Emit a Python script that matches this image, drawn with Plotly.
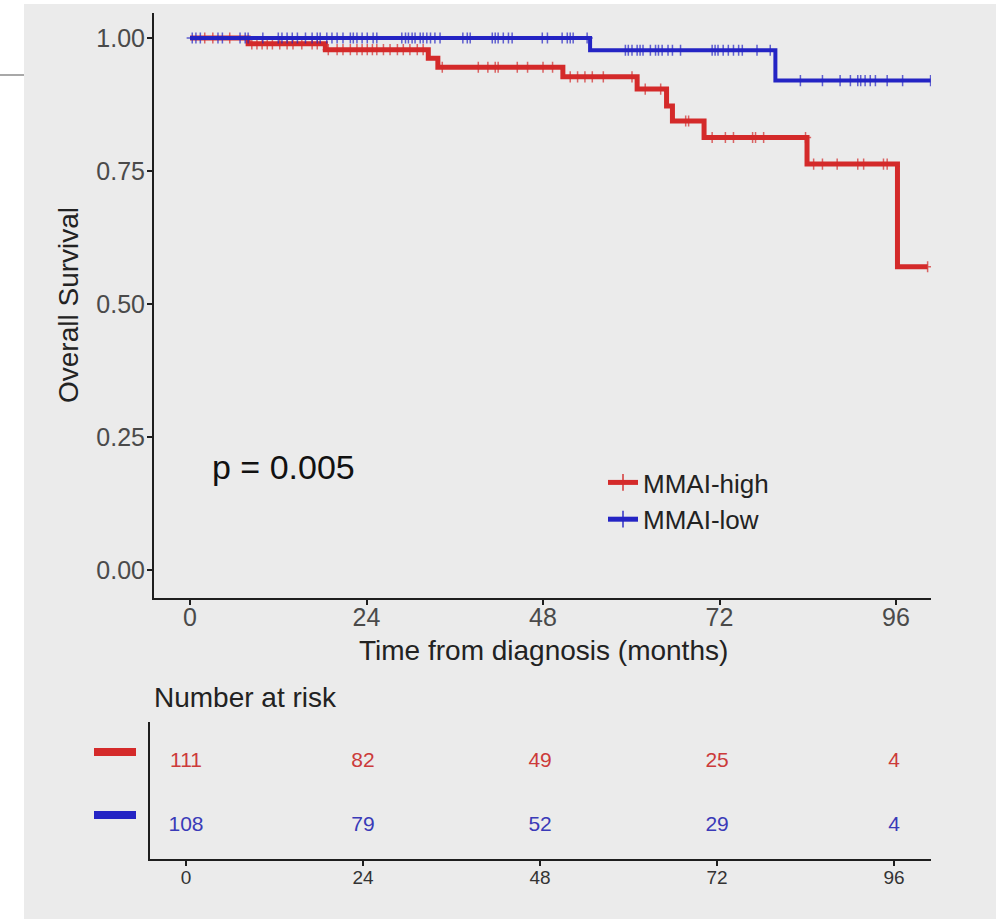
import numpy as np
import plotly.graph_objects as go

W, H = 1003, 919

# ---------------- data ----------------
groups = ["MMAI-high", "MMAI-low"]
colors = ["#d42a2a", "#2424c4"]
text_colors = ["#cc3a3a", "#3a3ab8"]

high_event_times = [7.9, 18.4, 32.4, 33.7, 50.7, 60.8, 64.8, 65.6, 69.9, 83.9, 96.2]
high_surv = [0.989, 0.978, 0.962, 0.945, 0.927, 0.904, 0.872, 0.844, 0.813, 0.763, 0.570]
high_censor_times = [2.0, 3.1, 5.4,
                     8.4, 9.1, 9.8, 10.5, 11.2, 12.2, 13.2, 14.0, 15.2, 16.6, 17.3,
                     18.8, 20.0, 20.8, 21.8, 22.7, 23.4, 24.1, 24.8, 25.4, 26.3, 27.2, 28.2, 29.0, 29.9, 30.9, 31.7,
                     34.3, 39.2, 40.5, 41.5, 41.9, 44.5, 45.9, 48.0, 49.3,
                     51.7, 52.7, 53.7, 54.7, 56.2, 60.1,
                     61.9, 64.0,
                     67.4, 67.8,
                     71.0, 72.8, 73.9, 76.5, 76.9, 78.0, 83.7,
                     84.8, 86.0, 88.0, 90.8, 91.6, 94.3, 94.8,
                     100.3]

low_event_times = [54.4, 79.6]
low_surv = [0.977, 0.920]
low_censor_times = [0.3, 0.8, 1.4, 3.8, 4.4, 6.8, 7.5, 7.9, 9.9, 12.0, 12.5, 13.2, 13.9, 14.6,
                    15.7, 16.6, 17.3, 17.7, 18.6, 19.3, 20.0, 20.8, 21.8, 22.2, 22.7, 23.4, 24.1,
                    24.9, 25.4, 28.8, 29.3, 29.7, 30.2, 30.6, 31.3, 31.7, 32.2, 32.7, 33.3, 34.0,
                    37.1, 37.7, 38.1, 41.1, 41.5, 41.9, 42.6, 43.3, 43.8, 47.9, 48.6, 50.6, 51.3,
                    51.7, 52.1, 54.0,
                    59.2, 59.6, 60.1, 60.8, 61.2, 61.6, 62.6, 63.3, 63.7, 64.2, 65.0, 65.6, 66.7,
                    71.0, 71.4, 71.8, 72.5, 73.2, 73.9, 74.6, 75.1, 77.1, 78.9,
                    83.0, 86.0, 88.4, 89.8, 90.8, 91.2, 91.8, 92.5, 93.2, 94.8, 96.9, 100.7]

risk_times = [0, 24, 48, 72, 96]
risk_high = [111, 82, 49, 25, 4]
risk_low = [108, 79, 52, 29, 4]
y_ticks = [0.0, 0.25, 0.5, 0.75, 1.0]
p_text = "p = 0.005"


def km_points(ev_t, surv, cens_t):
    ev = np.array(ev_t)
    sv = np.concatenate([[1.0], np.array(surv)])
    pts = [(0.0, 1.0, 0)] + [(t, s, 0) for t, s in zip(ev_t, surv)]
    for c in cens_t:
        idx = np.searchsorted(ev, c, side="right")
        pts.append((c, sv[idx], 1))
    pts.sort(key=lambda p: (p[0], p[2]))
    xs = [p[0] for p in pts]
    ys = [p[1] for p in pts]
    sz = [8 if p[2] else 0 for p in pts]
    return xs, ys, sz


fig = go.Figure()

series = [(high_event_times, high_surv, high_censor_times, 5),
          (low_event_times, low_surv, low_censor_times, 4)]
for (ev, sv, cs, lw), name, col in zip(series, groups, colors):
    xs, ys, sz = km_points(ev, sv, cs)
    fig.add_trace(go.Scatter(
        x=xs, y=ys, name=name, mode="lines+markers",
        line=dict(color=col, width=lw, shape="hv"),
        marker=dict(symbol="cross-thin", size=sz, color=col,
                    line=dict(color=col, width=1.5)),
        xaxis="x", yaxis="y", hoverinfo="skip"))

# risk table numbers
for row, vals, col in [(2, risk_high, text_colors[0]), (1, risk_low, text_colors[1])]:
    fig.add_trace(go.Scatter(
        x=risk_times, y=[row] * len(risk_times), mode="text",
        text=[str(v) for v in vals], textposition="middle center",
        textfont=dict(size=21, color=col, family="Liberation Sans"),
        showlegend=False, xaxis="x2", yaxis="y2", cliponaxis=False, hoverinfo="skip"))

axis_common = dict(showline=True, linecolor="#1e1e1e", linewidth=2, ticks="outside",
                   ticklen=5, tickwidth=1.5, tickcolor="#1e1e1e", showgrid=False,
                   zeroline=False, mirror=False)

fig.update_layout(
    width=W, height=H, autosize=False,
    margin=dict(l=0, r=0, t=0, b=0),
    paper_bgcolor="white", plot_bgcolor="rgba(0,0,0,0)",
    font=dict(family="Liberation Sans", color="#222222"),
    xaxis=dict(domain=[154 / W, 931 / W], range=[-4.9, 100.76], anchor="y",
               tickvals=risk_times, tickfont=dict(size=25, color="#4a4a4a"),
               ticklabelstandoff=-9, **axis_common),
    yaxis=dict(domain=[1 - 598 / H, 1 - 13 / H], range=[-0.0526, 1.047], anchor="x",
               tickvals=y_ticks, ticktext=[f"{v:.2f}" for v in y_ticks],
               tickfont=dict(size=25, color="#4a4a4a"), ticklabelstandoff=-3, **axis_common),
    xaxis2=dict(domain=[150 / W, 931 / W], range=[-4.88, 101.0], anchor="y2",
                tickvals=risk_times, tickfont=dict(size=19, color="#333333"),
                ticklabelstandoff=-5, **axis_common),
    yaxis2=dict(domain=[1 - 859 / H, 1 - 722 / H], range=[0.484, 2.625], anchor="x2",
                showline=True, linecolor="#1e1e1e", linewidth=2, ticks="",
                showticklabels=False, showgrid=False, zeroline=False),
    legend=dict(x=603 / W, y=1 - 459 / H, xanchor="left", yanchor="top",
                bgcolor="rgba(0,0,0,0)", font=dict(size=26, color="#222222"),
                itemsizing="constant", traceorder="normal"),
    shapes=[
        dict(type="rect", xref="paper", yref="paper", x0=24 / W, x1=996 / W, y0=0, y1=1 - 4 / H,
             fillcolor="#ebebeb", line=dict(width=0), layer="below"),
        dict(type="line", xref="paper", yref="paper", x0=0, x1=24 / W, y0=1 - 75 / H, y1=1 - 75 / H,
             line=dict(color="#a8a8a8", width=2)),
        dict(type="rect", xref="paper", yref="paper", x0=94 / W, x1=136 / W,
             y0=1 - 756 / H, y1=1 - 748 / H, fillcolor=colors[0], line=dict(width=0)),
        dict(type="rect", xref="paper", yref="paper", x0=94 / W, x1=136 / W,
             y0=1 - 819 / H, y1=1 - 811 / H, fillcolor=colors[1], line=dict(width=0)),
    ],
    annotations=[
        dict(text=p_text, x=2.7, y=0.194, xref="x", yref="y", xanchor="left", yanchor="middle",
             showarrow=False, font=dict(size=34, color="#111111")),
        dict(text="Overall Survival", x=68 / W, y=1 - 305 / H, xref="paper", yref="paper",
             xanchor="center", yanchor="middle",
             textangle=-90, showarrow=False, font=dict(size=28, color="#222222")),
        dict(text="Time from diagnosis (months)", x=543 / W, y=1 - 650 / H, xref="paper",
             yref="paper", xanchor="center", yanchor="middle",
             showarrow=False, font=dict(size=28, color="#222222")),
        dict(text="Number at risk", x=152 / W, y=1 - 697 / H, xref="paper", yref="paper",
             xanchor="left", yanchor="middle", showarrow=False,
             font=dict(size=28, color="#222222")),
    ],
)

fig.write_html("out.html", config={"displayModeBar": False},
               post_script="document.body.style.margin='0px';")
